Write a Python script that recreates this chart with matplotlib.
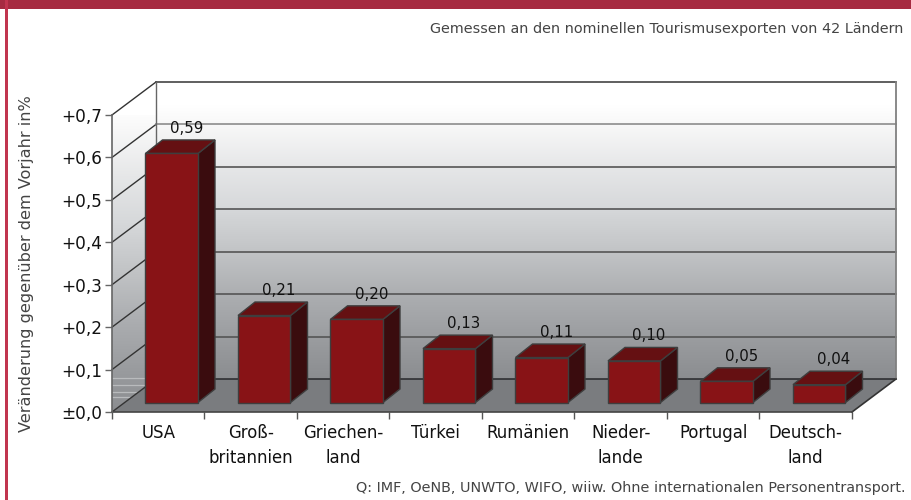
import numpy as np
import matplotlib
matplotlib.use("Agg")
import matplotlib.pyplot as plt
from matplotlib.patches import Polygon, Rectangle
from matplotlib.colors import LinearSegmentedColormap

categories = ["USA", "Groß-\nbritannien", "Griechen-\nland", "Türkei", "Rumänien",
              "Nieder-\nlande", "Portugal", "Deutsch-\nland"]
values = [0.587, 0.205, 0.196, 0.127, 0.106, 0.098, 0.050, 0.042]
value_labels = ["0,59", "0,21", "0,20", "0,13", "0,11", "0,10", "0,05", "0,04"]
y_ticks = [0.0, 0.1, 0.2, 0.3, 0.4, 0.5, 0.6, 0.7]
y_tick_labels = ["±0,0", "+0,1", "+0,2", "+0,3", "+0,4", "+0,5", "+0,6", "+0,7"]

W, H = 912, 500
fig = plt.figure(figsize=(W / 100, H / 100), dpi=100, facecolor="white")
plt.rcParams["font.family"] = "DejaVu Sans"

# page frame
fig.add_artist(Rectangle((0, 1 - 9 / H), 1, 9 / H, transform=fig.transFigure, color="#a62b41", lw=0))
fig.add_artist(Rectangle((5 / W, 0), 2.6 / W, 1, transform=fig.transFigure, color="#c1354f", lw=0))

L, R, B, T = 112, 852, 412, 115
ax = fig.add_axes([L / W, 1 - B / H, (R - L) / W, (B - T) / H])
ax.set_xlim(-0.5, 7.5)
ax.set_ylim(0, 0.7)
ax.patch.set_visible(False)

ux = (R - L) / 8       # px per category
uy = (B - T) / 0.7     # px per unit value
DX, DY = 44 / ux, 33 / uy      # full wall depth
x0, x1 = -0.5, 7.5
ytop = 0.7

cmap = LinearSegmentedColormap.from_list("wall", [
    (0.00, "#ffffff"), (0.076, "#ffffff"), (0.14, "#f8f8f8"), (0.285, "#e6e7e8"),
    (0.427, "#d6d8da"), (0.57, "#c2c4c6"), (0.71, "#adafb2"), (0.86, "#9b9da0"), (1.00, "#8b8d90")])
grad = np.linspace(0, 1, 256).reshape(-1, 1)

# back wall
ax.imshow(grad, cmap=cmap, aspect="auto", zorder=1, clip_on=False,
          extent=[x0 + DX, x1 + DX, DY, ytop + DY], origin="upper")
# left wall
left_poly = Polygon([(x0, 0), (x0 + DX, DY), (x0 + DX, ytop + DY), (x0, ytop)],
                    closed=True, fc="none", ec="none", transform=ax.transData)
ax.add_patch(left_poly)
im = ax.imshow(grad, cmap=cmap, aspect="auto", zorder=1, clip_on=True,
               extent=[x0, x0 + DX, 0, ytop + DY], origin="upper")
im.set_clip_path(left_poly)
left_poly.set_clip_on(False)
ax.set_xlim(-0.5, 7.5)
ax.set_ylim(0, 0.7)

# light banding on the lower left wall
for v in (0.08, 0.064, 0.047, 0.035):
    ax.plot([x0, x0 + 0.37], [v, v], color="#b9bbbd", lw=0.9, zorder=2, clip_on=False)

# floor
ax.add_patch(Polygon([(x0, 0), (x1, 0), (x1 + DX, DY), (x0 + DX, DY)], closed=True,
                     fc="#7a7c7f", ec="none", zorder=2, clip_on=False))

# grid lines on walls
for v in y_ticks:
    ax.plot([x0, x0 + DX], [v, v + DY], color="#333333", lw=1.0, zorder=3, clip_on=False)
    if v == 0.0:
        col = "#2f3033"
    elif v == 0.7:
        col = "#444444"
    elif v == 0.6:
        col = "#8c8c8c"
    else:
        col = "#555555"
    ax.plot([x0 + DX, x1 + DX], [v + DY, v + DY], color=col, lw=1.2, zorder=3, clip_on=False)
ax.plot([x0 + DX, x0 + DX], [DY, ytop + DY], color="#666666", lw=1.0, zorder=3, clip_on=False)
ax.plot([x1 + DX, x1 + DX], [DY, ytop + DY], color="#808080", lw=1.3, zorder=3, clip_on=False)
ax.plot([x1, x1 + DX], [0, DY], color="#333333", lw=1.2, zorder=3, clip_on=False)
ax.plot([x0, x1], [0, 0], color="#444444", lw=1.2, zorder=3, clip_on=False)
ax.plot([x0, x0], [0, ytop], color="#666666", lw=1.2, zorder=3, clip_on=False)

# 3-D bars
bw = 52.5 / ux
ox, oy = 13.5 / ux, 9.5 / uy   # front-face offset into the depth
bdx, bdy = 17 / ux, 13.5 / uy  # bar depth
EC = "#3e3e3e"
for i, (v, lab) in enumerate(zip(values, value_labels)):
    a = i - bw / 2 + ox
    b = a + bw
    y0 = oy
    y1 = oy + v
    ax.add_patch(Polygon([(b, y0), (b + bdx, y0 + bdy), (b + bdx, y1 + bdy), (b, y1)], closed=True,
                         fc="#3a0c0e", ec=EC, lw=1.0, zorder=5, clip_on=False))
    ax.add_patch(Polygon([(a, y1), (b, y1), (b + bdx, y1 + bdy), (a + bdx, y1 + bdy)], closed=True,
                         fc="#651012", ec=EC, lw=1.0, zorder=5, clip_on=False))
    ax.add_patch(Polygon([(a, y0), (b, y0), (b, y1), (a, y1)], closed=True,
                         fc="#881316", ec=EC, lw=1.0, zorder=6, clip_on=False))
    ax.annotate(lab, (a + bw / 2 + bdx / 2, y1 + bdy), xytext=(4.5, 3), textcoords="offset points",
                ha="center", va="bottom", fontsize=10.8, color="#111111", zorder=8, annotation_clip=False)

# axes furniture
for s in ax.spines.values():
    s.set_visible(False)
ax.set_yticks(y_ticks)
ax.set_yticklabels(y_tick_labels, fontsize=12.2, color="#111111")
ax.set_xticks(np.arange(-0.5, 8.5, 1))
ax.set_xticklabels([])
ax.set_xticks(np.arange(8), minor=True)
ax.set_xticklabels(categories, minor=True, fontsize=11.9, color="#111111", linespacing=1.43)
ax.tick_params(axis="y", length=5, width=1, color="#666666", pad=2)
ax.tick_params(axis="x", which="major", length=5, width=1, color="#555555")
ax.tick_params(axis="x", which="minor", length=0, pad=9)
ax.grid(False)

fig.text(903 / W, 1 - 28.5 / H, "Gemessen an den nominellen Tourismusexporten von 42 Ländern",
         ha="right", va="center", fontsize=10.4, color="#444444")
fig.text(906 / W, 1 - 488 / H, "Q: IMF, OeNB, UNWTO, WIFO, wiiw. Ohne internationalen Personentransport.",
         ha="right", va="center", fontsize=10.37, color="#444444")
fig.text(27 / W, 1 - 264 / H, "Veränderung gegenüber dem Vorjahr in%", rotation=90,
         ha="center", va="center", fontsize=11.65, color="#444444")

fig.savefig("out.png", dpi=100)
